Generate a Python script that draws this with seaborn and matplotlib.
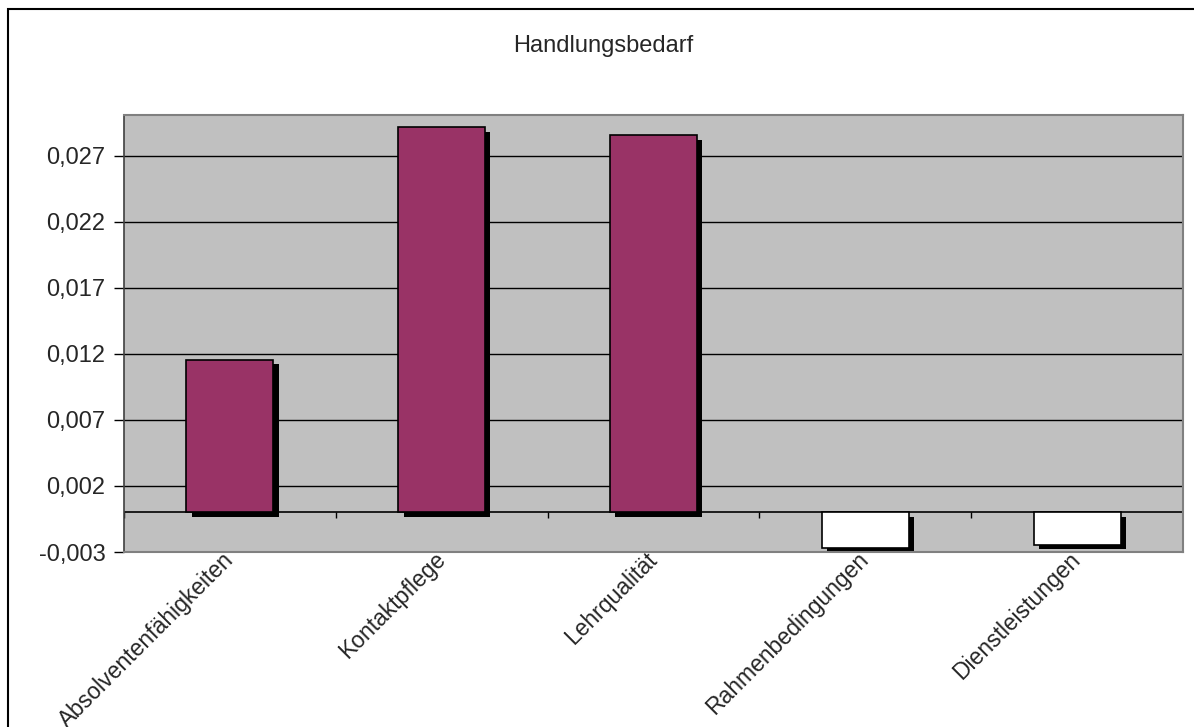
import numpy as np
import pandas as pd
import seaborn as sns
import matplotlib.pyplot as plt
import matplotlib.patheffects as pe
from matplotlib.patches import Rectangle
from matplotlib.ticker import FixedLocator, FuncFormatter

# data
categories = ["Absolventenfähigkeiten", "Kontaktpflege", "Lehrqualität",
              "Rahmenbedingungen", "Dienstleistungen"]
values = [0.01157, 0.02919, 0.02856, -0.0027, -0.00245]
y_ticks = [-0.003, 0.002, 0.007, 0.012, 0.017, 0.022, 0.027]
title = "Handlungsbedarf"

sns.set_style("white")
plt.rcParams["font.family"] = ["Liberation Sans", "DejaVu Sans"]

df = pd.DataFrame({"cat": categories, "val": values})
colors = ["#993366" if v >= 0 else "#FFFFFF" for v in values]

fig = plt.figure(figsize=(11.94, 7.27), dpi=100)
ax = fig.add_axes([124 / 1194, 1 - 552 / 727, (1183 - 124) / 1194, (552 - 115) / 727])
ax.set_facecolor("#C0C0C0")

# grid lines behind bars
for t in y_ticks:
    ax.axhline(t, color="black", lw=1, zorder=0)

sns.barplot(data=df, x="cat", y="val", hue="cat", palette=colors, legend=False,
            width=0.41, edgecolor="black", linewidth=1.2, saturation=1, ax=ax, zorder=2)

for bar in ax.patches:
    bar.set_path_effects([pe.SimplePatchShadow(offset=(3.8, -3.4), shadow_rgbFace="black", alpha=1),
                          pe.Normal()])

# category axis at zero with tick marks between categories
ax.axhline(0, color="black", lw=1.2, zorder=1)
bounds = np.arange(len(categories) + 1) - 0.5
ax.vlines(bounds, -0.0004, 0, color="black", lw=1, zorder=1)

ax.set_xlim(-0.5, len(categories) - 0.5)
ax.set_ylim(-0.003, 0.0301)
ax.yaxis.set_major_locator(FixedLocator(y_ticks))
ax.yaxis.set_major_formatter(FuncFormatter(lambda v, p: f"{v:.3f}".replace(".", ",")))
ax.tick_params(axis="y", length=7, width=1, color="black", labelsize=17, pad=6.5, left=True)
ax.set_xticks(range(len(categories)))
ax.set_xticklabels(categories, rotation=45, ha="right", va="center",
                   rotation_mode="anchor", fontsize=16.5)
ax.tick_params(axis="x", length=0, pad=3)
ax.set_xlabel("")
ax.set_ylabel("")

for side in ["top", "right", "bottom"]:
    ax.spines[side].set_color("#808080")
    ax.spines[side].set_linewidth(1.5)
ax.spines["left"].set_color("#404040")
ax.spines["left"].set_linewidth(1.2)

fig.text(603 / 1194, 1 - 52 / 727, title, ha="center", va="baseline", fontsize=17)

# chart area border
fig.patches.append(Rectangle((8 / 1194, -0.1), 1.2, 1 - 9 / 727 + 0.1,
                             transform=fig.transFigure, fill=False,
                             edgecolor="black", lw=1.5))

fig.savefig("out.png", dpi=100)
